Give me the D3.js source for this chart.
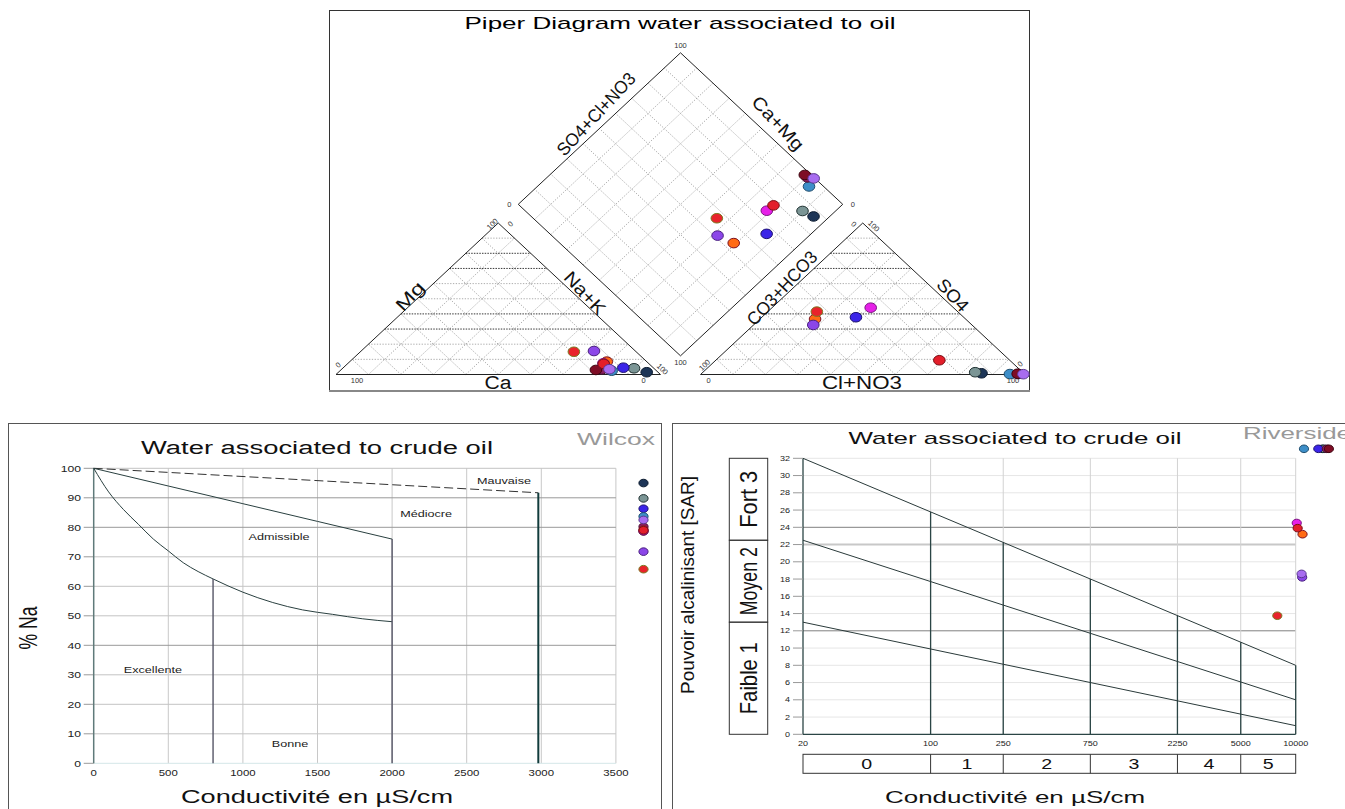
<!DOCTYPE html>
<html>
<head>
<meta charset="utf-8">
<script src="https://cdn.jsdelivr.net/npm/d3@7"></script>
<style>
  body { margin: 0; background: #fff; }
  text { font-family: "Liberation Sans", Arial, sans-serif; }
</style>
</head>
<body>
<div id="chart"></div>
<script>
// ---------------- data ----------------
// 12 samples, colour per sample
const COLORS  = ["#1d3557", "#7b9595", "#3b24e8", "#3d8ec8", "#8b1e5e", "#7e0d25",
                 "#ff6a14", "#e620e8", "#8b46e8", "#e8232b", "#e31e2a", "#a86cf0"];
const STROKES = ["#0b1a2e", "#1f3030", "#1c1070", "#1e4d6e", "#4a0c30", "#3e0510",
                 "#7a1020", "#7a1080", "#4a2080", "#7a7a20", "#7a0f14", "#5a3a90"];

// cations (% meq)
const CA   = [3.5, 6.1, 9.2, 13.8, 16.4, 18.4, 12.3, 13.9, 12.75, 19.2, 14, 14];
const MG   = [1.5, 4.1, 4.5, 2.5, 3.4, 3, 8.5, 7.4, 15.5, 15, 7, 3.5];
const NAK  = [95, 89.8, 86.3, 83.7, 80.2, 78.6, 79.2, 78.7, 71.75, 65.8, 79, 82.5];
// anions (% meq)
const HCO3 = [13, 14.6, 33.2, 4.5, 2, 2, 46.4, 25.5, 48.9, 43.4, 21.7, 0.4];
const SO4  = [0.8, 1.5, 37.8, 0.3, 0.3, 0.5, 36.6, 44.1, 32.7, 41.5, 9.4, 0.2];
const CL   = [86.2, 83.9, 29.0, 95.2, 97.7, 97.5, 17.0, 30.4, 18.4, 15.1, 68.9, 99.4];

// conductivity (µS/cm) and SAR
const EC  = [14000, 14300, 13300, 11100, 14800, 15200, 10900, 10130, 10850, 7930, 10250, 10770];
const SAR = [33.1, 33.1, 33.1, 33.1, 33.1, 33.1, 23.2, 24.5, 18.2, 13.75, 23.9, 18.6];

// Wilcox boundaries
const WIL_TOP    = [[0, 100], [2980, 91.7]];
const WIL_MID    = [[0, 100], [500, 94], [1000, 88], [1500, 82], [2000, 76]];
const WIL_LOW    = [[0, 100], [100, 92], [200, 86], [300, 81], [400, 76], [500, 72], [600, 68],
                    [700, 65], [800, 62.5], [1000, 58], [1200, 54.5], [1400, 52], [1600, 50.5],
                    [1800, 49], [2000, 48]];
const WIL_VERT   = [[800, 62.5], [2000, 76], [2980, 91.7]];
const WIL_LABELS = [["Mauvaise", 2750, 95.7], ["Médiocre", 2228, 84.5], ["Admissible", 1242, 76.7],
                    ["Excellente", 397, 31.6], ["Bonne", 1316, 6.5]];
const WIL_XTICKS = [0, 500, 1000, 1500, 2000, 2500, 3000, 3500];
const WIL_YTICKS = [0, 10, 20, 30, 40, 50, 60, 70, 80, 90, 100];

// Riverside
const RIV_CLASS_EC  = [20, 100, 250, 750, 2250, 5000, 10000];
const RIV_CLASS_LBL = ["0", "1", "2", "3", "4", "5"];
const RIV_LINES = [[[20, 32], [10000, 8]], [[20, 22.5], [10000, 4]], [[20, 13], [10000, 1]]];
const RIV_YTICKS = [0, 2, 4, 6, 8, 10, 12, 14, 16, 18, 20, 22, 24, 26, 28, 30, 32];
const RIV_BANDS = [["Faible 1", 0, 13], ["Moyen 2", 13, 22.5], ["Fort 3", 22.5, 32]];

// Piper grid
const GRID = [10, 20, 30, 40, 50, 60, 70, 80, 90];
const DARK_ROWS = [30, 40, 70, 80];

// ---------------- svg ----------------
const svg = d3.select("#chart").append("svg")
  .attr("width", 1345).attr("height", 809)
  .style("background", "#fff");

function stretch(sel, len) {
  sel.attr("textLength", len).attr("lengthAdjust", "spacingAndGlyphs");
}
function wide(sel, k) {
  sel.each(function () {
    const l = this.getComputedTextLength();
    d3.select(this).attr("textLength", l * k).attr("lengthAdjust", "spacingAndGlyphs");
  });
}

// ================= PIPER =================
const GAP = 0.1233, TH = Math.sqrt(3) / 2;
const PX = d3.scaleLinear().domain([0, 2 + GAP]).range([336, 1025]);
const PY = d3.scaleLinear().domain([0, (2 + GAP) * TH]).range([374.5, 374.5 - (2 + GAP) * 151.5]);
const B0 = 1 + GAP / 2, B1 = GAP * TH;   // diamond bottom

const piper = svg.append("g");
piper.append("rect").attr("x", 329.5).attr("y", 10.5).attr("width", 700).attr("height", 380)
  .attr("fill", "none").attr("stroke", "#333");
piper.append("line").attr("x1", 329).attr("x2", 1030).attr("y1", 391).attr("y2", 391)
  .attr("stroke", "#888").attr("stroke-width", 2);

stretch(piper.append("text").attr("x", 680).attr("y", 29).attr("text-anchor", "middle")
  .attr("font-size", 17).text("Piper Diagram water associated to oil"), 431);

const segs = [];
[0, 1 + GAP].forEach(off => {
  GRID.forEach(p => {
    const f = p / 100;
    segs.push({ a: [off + f / 2, f * TH], b: [off + 1 - f / 2, f * TH], dark: DARK_ROWS.includes(p) });
    segs.push({ a: [off + f, 0], b: [off + f + (1 - f) / 2, (1 - f) * TH] });
    segs.push({ a: [off + 1 - f, 0], b: [off + (1 - f) / 2, (1 - f) * TH] });
  });
});
GRID.forEach(p => {
  const f = p / 100;
  segs.push({ a: [B0 + 0.5 * f, B1 + TH * f], b: [B0 + 0.5 * f - 0.5, B1 + TH * f + TH] });
  segs.push({ a: [B0 - 0.5 * f, B1 + TH * f], b: [B0 - 0.5 * f + 0.5, B1 + TH * f + TH] });
});
piper.selectAll(".grid").data(segs).enter().append("line")
  .attr("x1", d => PX(d.a[0])).attr("y1", d => PY(d.a[1]))
  .attr("x2", d => PX(d.b[0])).attr("y2", d => PY(d.b[1]))
  .attr("stroke", d => d.dark ? "#222" : "#8a8a8a")
  .attr("stroke-width", d => d.dark ? 0.9 : 0.7)
  .attr("stroke-dasharray", d => d.dark ? "1.5,1.2" : "1.3,1.5");

const shapes = [
  [[0, 0], [1, 0], [0.5, TH]],
  [[1 + GAP, 0], [2 + GAP, 0], [1.5 + GAP, TH]],
  [[B0, B1], [B0 + 0.5, B1 + TH], [B0, B1 + 2 * TH], [B0 - 0.5, B1 + TH]]
];
piper.selectAll(".shape").data(shapes).enter().append("polygon")
  .attr("points", d => d.map(p => PX(p[0]) + "," + PY(p[1])).join(" "))
  .attr("fill", "none").attr("stroke", "#222").attr("stroke-width", 1);

// axis names
const ANG = Math.atan2(151.5, 162.25) * 180 / Math.PI + 4;
const names = [
  ["SO4+Cl+NO3", 596, 114, -ANG, 106], ["Ca+Mg", 778, 123, ANG, 67],
  ["Mg", 410, 296, -ANG, 33], ["Na+K", 585, 293, ANG, 52],
  ["CO3+HCO3", 782, 288, -ANG, 94], ["SO4", 953, 295, ANG, 38],
  ["Ca", 498, 383, 0, 27], ["Cl+NO3", 862, 383, 0, 80]
];
names.forEach(n => {
  stretch(piper.append("text")
    .attr("transform", `translate(${n[1]},${n[2]}) rotate(${n[3]})`)
    .attr("text-anchor", "middle").attr("dy", "0.35em")
    .attr("font-size", 18).attr("fill", "#111").text(n[0]), n[4]);
});

// small corner labels
const tiny = [
  ["100", PX(B0), PY(B1 + 2 * TH) - 7, 0], ["0", PX(B0 - 0.5) - 9, PY(B1 + TH), 0],
  ["0", PX(B0 + 0.5) + 10, PY(B1 + TH), 0], ["100", PX(B0), PY(B1) + 7, 0],
  ["100", PX(0) + 21, 380, 0], ["0", PX(1) - 17, 380, 0], ["0", PX(0) + 2, 365, -45],
  ["100", PX(0.5) - 6, PY(TH) + 1, -45], ["0", PX(0.5) + 12, PY(TH) + 1, -45], ["100", PX(1) + 2, 369, 45],
  ["0", PX(1 + GAP) + 8, 380, 0], ["100", PX(2 + GAP) - 12, 380, 0], ["100", PX(1 + GAP) + 4, 365, -45],
  ["0", PX(1.5 + GAP) - 9, PY(TH) + 1, 45], ["100", PX(1.5 + GAP) + 11, PY(TH) + 3, 45], ["0", PX(2 + GAP) - 5, 364, -45]
];
tiny.forEach(t => {
  piper.append("text").attr("transform", `translate(${t[1]},${t[2]}) rotate(${t[3]})`)
    .attr("text-anchor", "middle").attr("dy", "0.35em")
    .attr("font-size", 7.5).attr("fill", "#333").text(t[0]);
});

// samples in the 3 fields
const idx = d3.range(COLORS.length);
const cationPts = idx.map(i => [(NAK[i] + MG[i] / 2) / 100, MG[i] / 100 * TH]);
const anionPts = idx.map(i => [1 + GAP + (CL[i] + SO4[i] / 2) / 100, SO4[i] / 100 * TH]);
const diamondPts = idx.map(i => {
  const c = (CA[i] + MG[i]) / 100, s = (SO4[i] + CL[i]) / 100;
  return [B0 + 0.5 * (s - c), B1 + TH * (s + c)];
});
[cationPts, anionPts, diamondPts].forEach(pts => {
  piper.append("g").selectAll("ellipse").data(idx).enter().append("ellipse")
    .attr("cx", i => PX(pts[i][0])).attr("cy", i => PY(pts[i][1]))
    .attr("rx", 5.8).attr("ry", 4.8)
    .attr("fill", i => COLORS[i]).attr("stroke", i => STROKES[i]).attr("stroke-width", 1);
});

// ================= WILCOX =================
const xW = d3.scaleLinear().domain([0, 3500]).range([93.7, 615.9]);
const yW = d3.scaleLinear().domain([0, 100]).range([763.3, 468.3]);
const xWpt = d3.scaleLinear().domain([0, 3685]).range([xW(0), xW(3685)]).clamp(true);
const wil = svg.append("g");
wil.append("rect").attr("x", 8.5).attr("y", 423.5).attr("width", 653).attr("height", 400)
  .attr("fill", "none").attr("stroke", "#555");

wil.selectAll(".vg").data(WIL_XTICKS.slice(1)).enter().append("line")
  .attr("x1", d => xW(d)).attr("x2", d => xW(d)).attr("y1", yW(0)).attr("y2", yW(100))
  .attr("stroke", "#c8c8c8");
wil.selectAll(".hg").data(WIL_YTICKS.slice(1)).enter().append("line")
  .attr("x1", xW(0)).attr("x2", xW(3500)).attr("y1", d => yW(d)).attr("y2", d => yW(d))
  .attr("stroke", d => (d === 90 || d === 80 || d === 40) ? "#999" : "#c4c4c4");
wil.append("line").attr("x1", xW(0)).attr("x2", xW(3500)).attr("y1", yW(0)).attr("y2", yW(0))
  .attr("stroke", "#d4e6e8");
wil.selectAll(".yt").data(WIL_YTICKS).enter().append("line")
  .attr("x1", xW(0) - 10).attr("x2", xW(0)).attr("y1", d => yW(d)).attr("y2", d => yW(d))
  .attr("stroke", "#999");
wil.append("line").attr("x1", xW(0)).attr("x2", xW(0)).attr("y1", yW(0)).attr("y2", yW(100))
  .attr("stroke", "#5f7a7a").attr("stroke-width", 1.5);

const lineW = d3.line().x(d => xW(d[0])).y(d => yW(d[1])).curve(d3.curveMonotoneX);
wil.append("path").attr("d", lineW(WIL_TOP)).attr("fill", "none").attr("stroke", "#333")
  .attr("stroke-dasharray", "9,4");
wil.append("path").attr("d", lineW(WIL_MID)).attr("fill", "none").attr("stroke", "#2a4040");
wil.append("path").attr("d", lineW(WIL_LOW)).attr("fill", "none").attr("stroke", "#2a4040");
wil.selectAll(".vl").data(WIL_VERT).enter().append("line")
  .attr("x1", d => xW(d[0])).attr("x2", d => xW(d[0])).attr("y1", yW(0)).attr("y2", d => yW(d[1]))
  .attr("stroke", (d, i) => i === 2 ? "#123c3c" : "#556")
  .attr("stroke-width", (d, i) => i === 2 ? 2 : 1.4);

WIL_LABELS.forEach(l => {
  wide(wil.append("text").attr("x", xW(l[1])).attr("y", yW(l[2])).attr("dy", "0.35em")
    .attr("text-anchor", "middle").attr("font-size", 9).attr("fill", "#222").text(l[0]), 1.4);
});
wil.selectAll(".ytl").data(WIL_YTICKS).enter().append("text")
  .attr("x", 81).attr("y", d => yW(d)).attr("dy", "0.35em").attr("text-anchor", "end")
  .attr("font-family", "DejaVu Sans").attr("font-size", 9.5).attr("fill", "#222").text(d => d)
  .call(wide, 1.28);
wil.selectAll(".xtl").data(WIL_XTICKS).enter().append("text")
  .attr("x", d => xW(d)).attr("y", 773).attr("dy", "0.35em").attr("text-anchor", "middle")
  .attr("font-family", "DejaVu Sans").attr("font-size", 9.5).attr("fill", "#222").text(d => d)
  .call(wide, 1.2);

stretch(wil.append("text").attr("x", 317).attr("y", 454).attr("text-anchor", "middle")
  .attr("font-size", 18).attr("fill", "#111").text("Water associated to crude oil"), 352);
stretch(wil.append("text").attr("x", 577).attr("y", 445)
  .attr("font-size", 16).attr("fill", "#999").text("Wilcox"), 78);
stretch(wil.append("text").attr("x", 317).attr("y", 803).attr("text-anchor", "middle")
  .attr("font-size", 18).attr("fill", "#111").text("Conductivité en µS/cm"), 272);
stretch(wil.append("text").attr("transform", "translate(28,628) rotate(-90)")
  .attr("text-anchor", "middle").attr("dy", "0.35em")
  .attr("font-size", 26).attr("fill", "#111").text("% Na"), 43);

wil.append("g").selectAll("ellipse").data(idx).enter().append("ellipse")
  .attr("cx", i => xWpt(EC[i])).attr("cy", i => yW(NAK[i]))
  .attr("rx", 4.6).attr("ry", 3.8)
  .attr("fill", i => COLORS[i]).attr("stroke", i => STROKES[i]);

// ================= RIVERSIDE =================
const xR = d3.scaleLog().domain([20, 10000]).range([803, 1295.7]);
const yR = d3.scaleLinear().domain([0, 32]).range([734.3, 458.3]);
const topLine = d3.scaleLog().domain([RIV_LINES[0][0][0], RIV_LINES[0][1][0]])
  .range([RIV_LINES[0][0][1], RIV_LINES[0][1][1]]);
const riv = svg.append("g");
riv.append("rect").attr("x", 672.5).attr("y", 423.5).attr("width", 700).attr("height", 400)
  .attr("fill", "none").attr("stroke", "#555");

riv.selectAll(".hg").data(RIV_YTICKS.slice(1)).enter().append("line")
  .attr("x1", xR(20)).attr("x2", xR(10000)).attr("y1", d => yR(d)).attr("y2", d => yR(d))
  .attr("stroke", d => (d === 24 || d === 12) ? "#808080" : (d === 22 ? "#c8c8c8" : "#e6e6e6"))
  .attr("stroke-width", d => d === 22 ? 2 : 1);
riv.selectAll(".vg").data(RIV_CLASS_EC.slice(1)).enter().append("line")
  .attr("x1", d => xR(d)).attr("x2", d => xR(d)).attr("y1", yR(0)).attr("y2", yR(32))
  .attr("stroke", "#d2d2d2");
riv.selectAll(".vd").data(RIV_CLASS_EC.slice(1)).enter().append("line")
  .attr("x1", d => xR(d)).attr("x2", d => xR(d)).attr("y1", yR(0)).attr("y2", d => yR(topLine(d)))
  .attr("stroke", "#2b4545").attr("stroke-width", 1.3);
riv.append("line").attr("x1", xR(20)).attr("x2", xR(20)).attr("y1", yR(0)).attr("y2", yR(32))
  .attr("stroke", "#2b4545").attr("stroke-width", 1.3);
riv.append("line").attr("x1", xR(20)).attr("x2", xR(10000)).attr("y1", yR(0)).attr("y2", yR(0))
  .attr("stroke", "#2b4545").attr("stroke-width", 1.3);

const lineR = d3.line().x(d => xR(d[0])).y(d => yR(d[1]));
riv.selectAll(".rl").data(RIV_LINES).enter().append("path")
  .attr("d", lineR).attr("fill", "none").attr("stroke", "#2a3a3a").attr("stroke-width", 1);

riv.selectAll(".yt").data(RIV_YTICKS).enter().append("line")
  .attr("x1", xR(20) - 10).attr("x2", xR(20)).attr("y1", d => yR(d)).attr("y2", d => yR(d))
  .attr("stroke", "#999");
riv.selectAll(".ytl").data(RIV_YTICKS).enter().append("text")
  .attr("x", 790).attr("y", d => yR(d)).attr("dy", "0.35em").attr("text-anchor", "end")
  .attr("font-family", "DejaVu Sans").attr("font-size", 7.5).attr("fill", "#222").text(d => d)
  .call(wide, 1.2);
riv.selectAll(".xtl").data(RIV_CLASS_EC).enter().append("text")
  .attr("x", d => xR(d)).attr("y", 743).attr("dy", "0.35em").attr("text-anchor", "middle")
  .attr("font-family", "DejaVu Sans").attr("font-size", 7.5).attr("fill", "#222").text(d => d)
  .call(wide, 1.2);

// class boxes under x axis
riv.append("rect").attr("x", xR(20)).attr("y", 754.3).attr("width", xR(10000) - xR(20))
  .attr("height", 19).attr("fill", "none").attr("stroke", "#333");
riv.selectAll(".cd").data(RIV_CLASS_EC.slice(1, -1)).enter().append("line")
  .attr("x1", d => xR(d)).attr("x2", d => xR(d)).attr("y1", 754.3).attr("y2", 773.3)
  .attr("stroke", "#333");
riv.selectAll(".cl").data(RIV_CLASS_LBL).enter().append("text")
  .attr("x", (d, i) => (xR(RIV_CLASS_EC[i]) + xR(RIV_CLASS_EC[i + 1])) / 2)
  .attr("y", 764).attr("dy", "0.35em").attr("text-anchor", "middle")
  .attr("font-size", 14).attr("fill", "#111").text(d => d).call(wide, 1.4);

// SAR class boxes
RIV_BANDS.forEach(b => {
  riv.append("rect").attr("x", 729.3).attr("y", yR(b[2])).attr("width", 38.4)
    .attr("height", yR(b[1]) - yR(b[2])).attr("fill", "none").attr("stroke", "#333");
  const len = { "Fort 3": 57, "Moyen 2": 68, "Faible 1": 72 }[b[0]];
  stretch(riv.append("text")
    .attr("transform", `translate(749,${(yR(b[1]) + yR(b[2])) / 2}) rotate(-90)`)
    .attr("text-anchor", "middle").attr("dy", "0.35em")
    .attr("font-size", 24).attr("fill", "#111").text(b[0]), len);
});

stretch(riv.append("text").attr("x", 1015).attr("y", 444).attr("text-anchor", "middle")
  .attr("font-size", 17).attr("fill", "#111").text("Water associated to crude oil"), 333);
stretch(riv.append("text").attr("x", 1243).attr("y", 439)
  .attr("font-size", 16).attr("fill", "#999").text("Riverside"), 108);
stretch(riv.append("text").attr("x", 1015).attr("y", 803).attr("text-anchor", "middle")
  .attr("font-size", 17).attr("fill", "#111").text("Conductivité en µS/cm"), 260);
stretch(riv.append("text").attr("transform", "translate(687,585) rotate(-90)")
  .attr("text-anchor", "middle").attr("dy", "0.35em")
  .attr("font-size", 19).attr("fill", "#111").text("Pouvoir alcalinisant [SAR]"), 218);

riv.append("g").selectAll("ellipse").data(idx).enter().append("ellipse")
  .attr("cx", i => xR(EC[i])).attr("cy", i => yR(SAR[i]))
  .attr("rx", 4.6).attr("ry", 3.8)
  .attr("fill", i => COLORS[i]).attr("stroke", i => STROKES[i]);
</script>
</body>
</html>
